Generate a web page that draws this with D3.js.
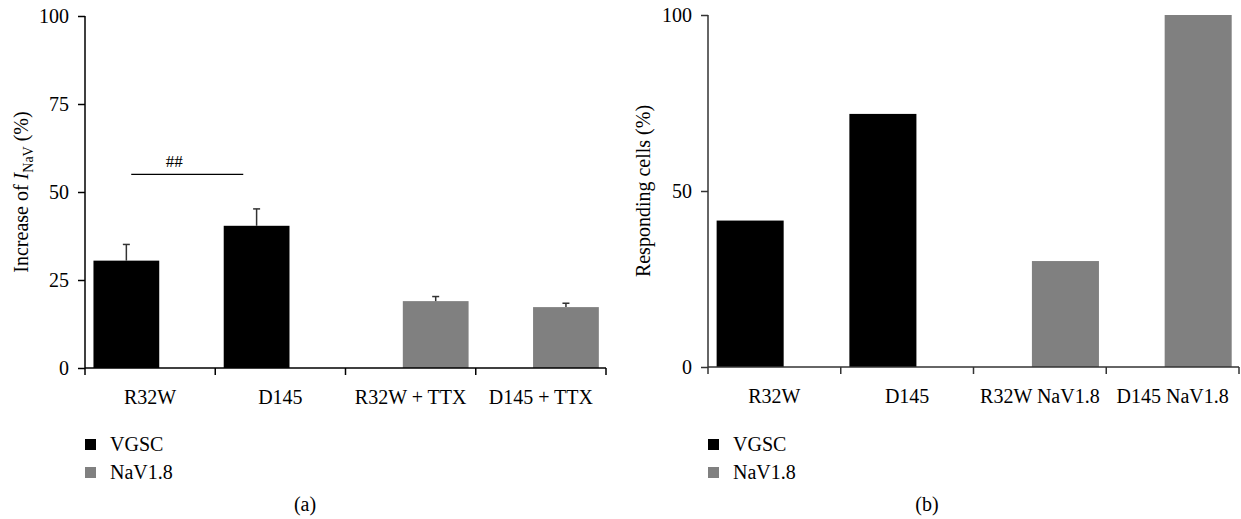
<!DOCTYPE html>
<html>
<head>
<meta charset="utf-8">
<script src="https://cdn.jsdelivr.net/npm/d3@7"></script>
<style>
body{margin:0;background:#fff;}
text{font-family:"Liberation Serif","Times New Roman",serif;}
</style>
</head>
<body>
<svg id="chart" width="1241" height="519"></svg>
<script>
// panel (a)
var catsA = ["R32W", "D145", "R32W + TTX", "D145 + TTX"];
var vgscA = [30.5, 40.4, 0, 0];
var vgscErrA = [4.6, 4.8, 0, 0];
var navA = [0, 0, 19.0, 17.3];
var navErrA = [0, 0, 1.3, 1.1];
var ticksA = [0, 25, 50, 75, 100];

// panel (b)
var catsB = ["R32W", "D145", "R32W NaV1.8", "D145 NaV1.8"];
var vgscB = [41.6, 71.9, 0, 0];
var navB = [0, 0, 30.1, 100];
var ticksB = [0, 50, 100];

var seriesNames = ["VGSC", "NaV1.8"];
var colors = ["#000000", "#808080"];
var fs = 20;

var svg = d3.select("#chart");

function panel(opt){
    var g = svg.append("g");
    var x = d3.scaleBand().domain(opt.cats).range([opt.x0, opt.x1]);
    var y = d3.scaleLinear().domain([0,100]).range([opt.y0, opt.y1]);
    var bw = x.bandwidth();
    var off = [0.065, 0.44];
    var w = bw*0.505;

    var series = [opt.vgsc, opt.nav];
    series.forEach(function(vals, si){
        g.selectAll(null).data(opt.cats).enter()
         .filter((c,i)=>vals[i]>0)
         .append("rect")
         .attr("x", c=>x(c)+bw*off[si])
         .attr("y", (c)=>y(vals[opt.cats.indexOf(c)]))
         .attr("width", w)
         .attr("height", c=>opt.y0 - y(vals[opt.cats.indexOf(c)]))
         .attr("fill", colors[si]);
    });

    // error bars
    if(opt.errs){
        opt.errs.forEach(function(errs, si){
            opt.cats.forEach(function(c,i){
                if(!errs[i]) return;
                var v = series[si][i];
                var cx = x(c)+bw*off[si]+w/2;
                g.append("line").attr("x1",cx).attr("x2",cx)
                 .attr("y1",y(v)).attr("y2",y(v+errs[i]))
                 .attr("stroke","#333").attr("stroke-width",1.5);
                g.append("line").attr("x1",cx-3.5).attr("x2",cx+3.5)
                 .attr("y1",y(v+errs[i])).attr("y2",y(v+errs[i]))
                 .attr("stroke","#333").attr("stroke-width",1.5);
            });
        });
    }

    // y axis
    var yAxis = d3.axisLeft(y).tickValues(opt.ticks).tickSize(7).tickPadding(9);
    var ya = g.append("g").attr("transform",`translate(${opt.x0},0)`).call(yAxis);
    ya.select(".domain").attr("stroke",opt.axisColor).attr("stroke-width",1.5).attr("d",`M0,${opt.y0}V${opt.y1}`);
    ya.selectAll(".tick line").attr("stroke",opt.axisColor).attr("stroke-width",1.5);
    ya.selectAll(".tick text").attr("font-size",fs).attr("fill","#000")
      .style("font-family",'"Liberation Serif",serif');

    // x axis
    g.append("line").attr("x1",opt.x0).attr("x2",opt.x1).attr("y1",opt.y0).attr("y2",opt.y0)
     .attr("stroke",opt.axisColor).attr("stroke-width",1.5);
    var bounds = opt.cats.map(c=>x(c)).concat([opt.x1]);
    g.selectAll(null).data(bounds).enter().append("line")
     .attr("x1",d=>d).attr("x2",d=>d).attr("y1",opt.y0).attr("y2",opt.y0+7)
     .attr("stroke",opt.axisColor).attr("stroke-width",1.5);
    g.selectAll(null).data(opt.cats).enter().append("text")
     .attr("x",c=>x(c)+bw/2).attr("y",opt.y0+36)
     .attr("text-anchor","middle").attr("font-size",fs).text(c=>c);

    // y label
    var lab = g.append("text")
     .attr("transform",`translate(${opt.labelX},${(opt.y0+opt.y1)/2}) rotate(-90)`)
     .attr("text-anchor","middle").attr("font-size",fs);
    opt.label(lab);

    // legend
    seriesNames.forEach(function(s,i){
        g.append("rect").attr("x",opt.x0).attr("y",439+i*28).attr("width",11).attr("height",11)
         .attr("fill",colors[i]);
        g.append("text").attr("x",opt.x0+25).attr("y",451+i*28).attr("font-size",fs).text(s);
    });

    g.append("text").attr("x",opt.capX).attr("y",511).attr("text-anchor","middle")
     .attr("font-size",fs).text(opt.cap);

    return {g:g, x:x, y:y, bw:bw};
}

var pa = panel({
    cats: catsA, vgsc: vgscA, nav: navA, errs: [vgscErrA, navErrA], ticks: ticksA,
    x0: 85, x1: 606, y0: 368, y1: 16, axisColor: "#000", labelX: 28, capX: 305, cap: "(a)",
    label: function(t){
        t.append("tspan").text("Increase of ");
        t.append("tspan").attr("font-style","italic").text("I");
        t.append("tspan").attr("font-size",14).attr("dy",5).text("NaV");
        t.append("tspan").attr("dy",-5).text(" (%)");
    }
});

// significance marker between R32W and D145
var sigY = pa.y(55);
pa.g.append("line").attr("x1",pa.x("R32W")+pa.bw*0.355).attr("x2",pa.x("D145")+pa.bw*0.215)
  .attr("y1",sigY).attr("y2",sigY).attr("stroke","#000").attr("stroke-width",1.2);
pa.g.append("text").attr("x",pa.x("R32W")+pa.bw*0.685).attr("y",sigY-7)
  .attr("text-anchor","middle").attr("font-size",17).text("##");

panel({
    cats: catsB, vgsc: vgscB, nav: navB, ticks: ticksB,
    x0: 708, x1: 1239, y0: 367, y1: 15, axisColor: "#333", labelX: 650, capX: 927, cap: "(b)",
    label: function(t){ t.text("Responding cells (%)"); }
});
</script>
</body>
</html>
